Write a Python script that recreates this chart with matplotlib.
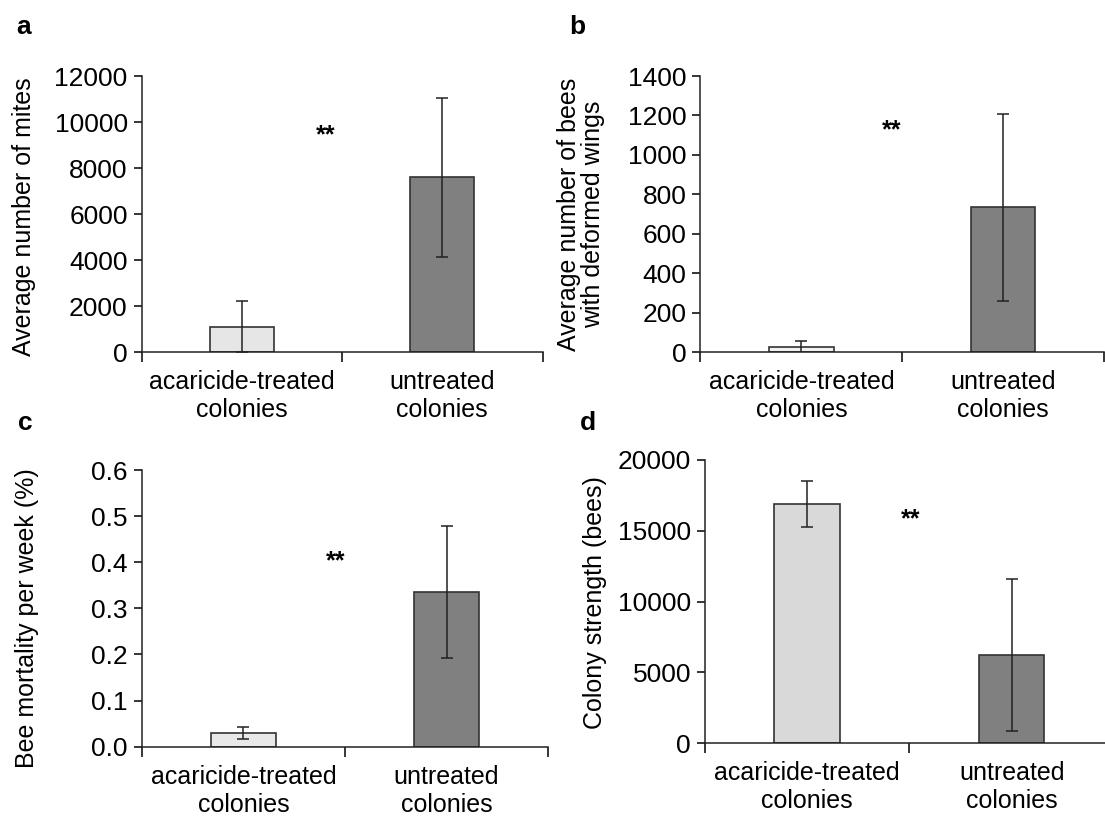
import matplotlib
matplotlib.use('Agg')
import matplotlib.pyplot as plt
import numpy as np
from matplotlib.ticker import FormatStrFormatter

plt.rcParams['font.family'] = ['Liberation Sans', 'DejaVu Sans']
plt.rcParams['font.size'] = 18

# data
groups = ['acaricide-treated\ncolonies', 'untreated\ncolonies']

mites_mean = [1100, 7600]
mites_err = [1100, 3450]

dwv_mean = [24, 734]
dwv_err = [32, 474]

mortality_mean = [0.029, 0.335]
mortality_err = [0.013, 0.143]

strength_mean = [16900, 6250]
strength_err = [1600, 5350]

dark = '#808080'
edge = '#333333'

fig = plt.figure(figsize=(11.05, 8.16), dpi=100)

panels = [
    # rect, means, errs, ymax, yticks, ylabel, letter, light colour, star (x frac, y), label coords
    ([0.1281, 0.5686, 0.3629, 0.3382], mites_mean, mites_err, 12000, np.arange(0, 12001, 2000),
     'Average number of mites', 'a', '#e6e6e6', (0.459, 9100), (-0.262, 0.49)),
    ([0.6339, 0.5686, 0.3652, 0.3382], dwv_mean, dwv_err, 1400, np.arange(0, 1401, 200),
     'Average number of bees\nwith deformed wings', 'b', '#f2f2f2', (0.473, 1090), (-0.237, 0.5)),
    ([0.1283, 0.0849, 0.3677, 0.3391], mortality_mean, mortality_err, 0.6, np.arange(0, 0.61, 0.1),
     'Bee mortality per week (%)', 'c', '#e8e8e8', (0.477, 0.3875), (-0.253, 0.465)),
    ([0.6380, 0.0891, 0.3700, 0.3472], strength_mean, strength_err, 20000, np.arange(0, 20001, 5000),
     'Colony strength (bees)', 'd', '#d9d9d9', (0.502, 15290), (-0.24, 0.495)),
]

x = np.arange(len(groups))

for rect, means, errs, ymax, yticks, ylabel, letter, light, star, labxy in panels:
    ax = fig.add_axes(rect)
    ax.bar(x, means, width=0.32, color=[light, dark], edgecolor=edge, linewidth=1.2, zorder=2)
    ax.errorbar(x, means, yerr=errs, fmt='none', ecolor='#222222', elinewidth=1.1,
                capsize=4, capthick=1.1, zorder=3)
    ax.set_xlim(-0.5, 1.5)
    ax.set_ylim(0, ymax)
    ax.set_yticks(yticks)
    if letter == 'c':
        ax.yaxis.set_major_formatter(FormatStrFormatter('%.1f'))
    ax.spines['top'].set_visible(False)
    ax.spines['right'].set_visible(False)
    for s in ['left', 'bottom']:
        ax.spines[s].set_linewidth(1.1)
        ax.spines[s].set_color('#222222')
    # boundary ticks like the spreadsheet style, labels at the bar centres
    ax.set_xticks([-0.5, 0.5, 1.5])
    ax.set_xticklabels([])
    ax.set_xticks(x, minor=True)
    ax.set_xticklabels(groups, minor=True, linespacing=1.2)
    ax.tick_params(axis='x', which='major', direction='out', length=7, width=1.1)
    ax.tick_params(axis='x', which='minor', length=0, pad=13)
    ax.tick_params(axis='y', direction='out', length=6, width=1.1, pad=4, labelsize=19)
    ax.set_ylabel(ylabel, linespacing=1.0)
    ax.yaxis.set_label_coords(*labxy)
    ax.text(-0.5 + 2 * star[0], star[1], '**', ha='center', va='baseline', fontsize=18, fontweight='bold')

fig.text(0.015, 0.967, 'a', fontsize=19, fontweight='bold', va='center')
fig.text(0.515, 0.967, 'b', fontsize=19, fontweight='bold', va='center')
fig.text(0.016, 0.482, 'c', fontsize=19, fontweight='bold', va='center')
fig.text(0.525, 0.482, 'd', fontsize=19, fontweight='bold', va='center')

fig.savefig('out.png', dpi=100)
